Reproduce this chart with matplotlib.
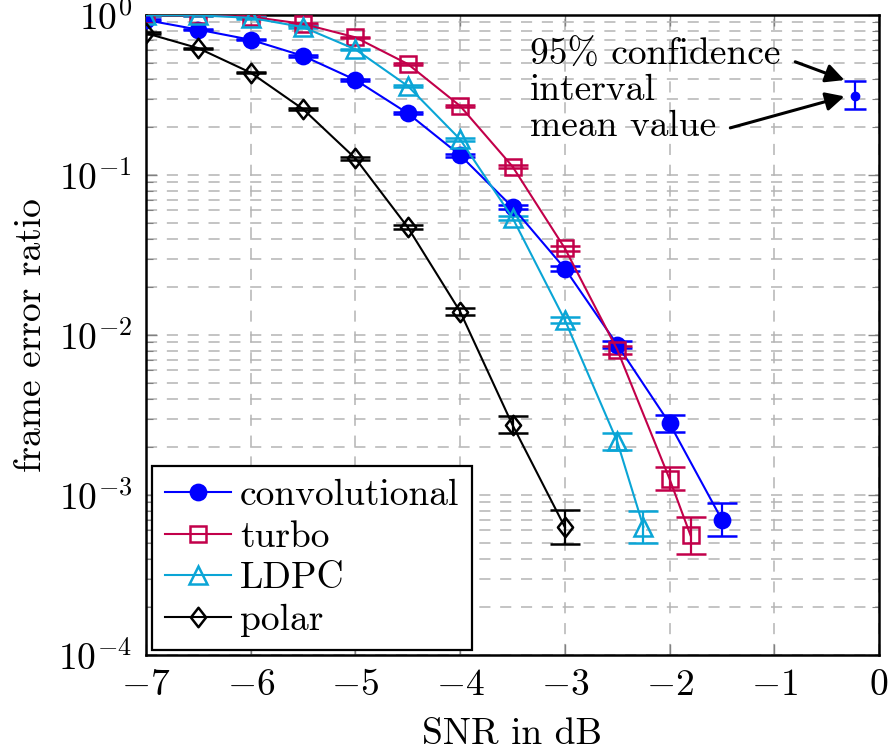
"""Frame error ratio vs SNR for four channel codes."""

import matplotlib

matplotlib.use("Agg")
import matplotlib.pyplot as plt
from matplotlib.path import Path
from matplotlib.ticker import LogLocator, NullFormatter

plt.rcParams["font.family"] = ["cmr10", "DejaVu Serif"]
plt.rcParams["mathtext.fontset"] = "cm"
plt.rcParams["axes.formatter.use_mathtext"] = True
plt.rcParams["font.size"] = 27
plt.rcParams["lines.scale_dashes"] = False

# data
conv_snr = [-7, -6.5, -6, -5.5, -5, -4.5, -4, -3.5, -3, -2.5, -2, -1.5]
conv_fer = [0.93, 0.81, 0.70, 0.555, 0.393, 0.243, 0.133, 0.063, 0.026, 0.0087, 0.0028, 0.0007]
conv_ci = [1.01, 1.01, 1.01, 1.01, 1.015, 1.015, 1.02, 1.03, 1.04, 1.05, 1.125, 1.27]

turbo_snr = [-7, -6.5, -6, -5.5, -5, -4.5, -4, -3.5, -3, -2.5, -2, -1.8]
turbo_fer = [0.995, 0.995, 0.976, 0.88, 0.725, 0.494, 0.27, 0.113, 0.0348, 0.0081, 0.00126, 0.00056]
turbo_ci = [1.005, 1.005, 1.01, 1.01, 1.01, 1.015, 1.015, 1.02, 1.04, 1.06, 1.18, 1.3]

ldpc_snr = [-7, -6.5, -6, -5.5, -5, -4.5, -4, -3.5, -3, -2.5, -2.25]
ldpc_fer = [0.995, 0.995, 0.96, 0.84, 0.61, 0.36, 0.167, 0.054, 0.0124, 0.00216, 0.000634]
ldpc_ci = [1.005, 1.005, 1.01, 1.01, 1.01, 1.015, 1.02, 1.03, 1.05, 1.13, 1.26]

polar_snr = [-7, -6.5, -6, -5.5, -5, -4.5, -4, -3.5, -3]
polar_fer = [0.77, 0.62, 0.436, 0.258, 0.127, 0.0471, 0.014, 0.00274, 0.00063]
polar_ci = [1.01, 1.01, 1.01, 1.015, 1.02, 1.03, 1.05, 1.13, 1.27]

# sample point used for the "confidence interval" annotation
sample_snr = [-0.23]
sample_fer = [0.313]
sample_low = [0.257]
sample_high = [0.387]

x_ticks = [-7, -6, -5, -4, -3, -2, -1, 0]

diamond = Path([(0, 1), (0.78, 0), (0, -1), (-0.78, 0), (0, 1)],
               [Path.MOVETO, Path.LINETO, Path.LINETO, Path.LINETO, Path.CLOSEPOLY])

series = [
    ("convolutional", conv_snr, conv_fer, conv_ci, "#0000FF", "o", 11, "#0000FF"),
    ("turbo", turbo_snr, turbo_fer, turbo_ci, "#C2004A", "s", 12, "none"),
    ("LDPC", ldpc_snr, ldpc_fer, ldpc_ci, "#0AA5D6", "^", 13, "none"),
    ("polar", polar_snr, polar_fer, polar_ci, "black", diamond, 14, "none"),
]

fig = plt.figure(figsize=(8.94, 7.5), dpi=100)
ax = fig.add_axes([146 / 894, 1 - 655 / 750, 733 / 894, 640 / 750])

for label, snr, fer, ci, color, marker, msize, face in series:
    low = [v - v / f for v, f in zip(fer, ci)]
    high = [v * f - v for v, f in zip(fer, ci)]
    ax.errorbar(snr, fer, yerr=[low, high], fmt="none", ecolor=color,
                elinewidth=1.6, capsize=11, capthick=1.8, zorder=3)
    ax.plot(snr, fer, color=color, lw=1.5, marker=marker, ms=msize,
            mfc=face, mec=color, mew=1.8, label=label, zorder=4)

ax.errorbar(sample_snr, sample_fer,
            yerr=[[sample_fer[0] - sample_low[0]], [sample_high[0] - sample_fer[0]]],
            fmt="o", color="#0000FF", ms=6, elinewidth=1.6, capsize=8, capthick=1.8, zorder=4)

ax.set_yscale("log")
ax.set_xlim(-7, 0)
ax.set_ylim(1e-4, 1)
ax.set_xticks(x_ticks)
ax.yaxis.set_major_locator(LogLocator(base=10, numticks=10))
ax.yaxis.set_minor_locator(LogLocator(base=10, subs=range(2, 10), numticks=10))
ax.yaxis.set_minor_formatter(NullFormatter())

ax.grid(which="major", axis="x", color="#b4b4b4", lw=1.1, ls=(0, (8, 7)))
ax.grid(which="both", axis="y", color="#b4b4b4", lw=1.1, ls=(0, (8, 7)))
ax.set_axisbelow(True)

ax.tick_params(which="both", direction="in", top=True, right=True, color="#808080")
ax.tick_params(which="major", length=8, width=1.0, pad=10)
ax.tick_params(which="minor", length=5, width=0.8)
for spine in ax.spines.values():
    spine.set_linewidth(1.8)

ax.set_xlabel("SNR in dB", labelpad=11)
ax.set_ylabel("frame error ratio", labelpad=7)

ax.text(-3.33, 0.487, "95% confidence", va="baseline", ha="left")
ax.text(-3.33, 0.294, "interval", va="baseline", ha="left")
ax.text(-3.33, 0.175, "mean value", va="baseline", ha="left")
arrow = dict(arrowstyle="-|>", color="black", lw=2.2, mutation_scale=28, shrinkA=0, shrinkB=0)
ax.annotate("", xy=(-0.33, 0.392), xytext=(-0.8, 0.51), arrowprops=arrow)
ax.annotate("", xy=(-0.33, 0.31), xytext=(-1.42, 0.197), arrowprops=arrow)

leg = ax.legend(loc="lower left", bbox_to_anchor=(0.008, 0.008), borderaxespad=0,
                numpoints=1, handlelength=1.75, handletextpad=0.25, labelspacing=0.22,
                borderpad=0.35, fancybox=False, framealpha=1, edgecolor="black")
leg.get_frame().set_linewidth(1.6)

fig.savefig("out.png", dpi=100)
